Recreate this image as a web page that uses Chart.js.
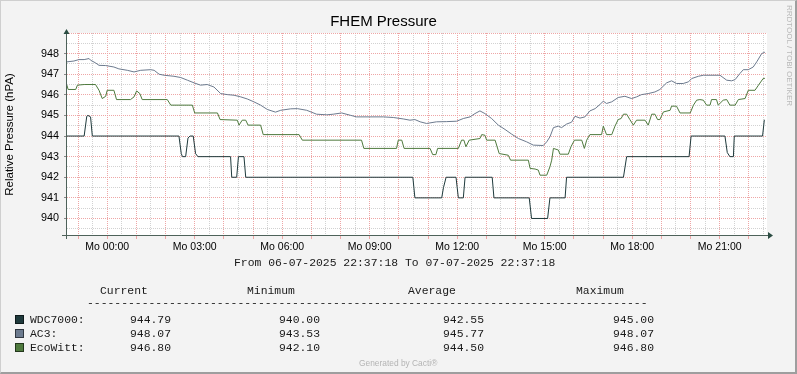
<!DOCTYPE html>
<html>
<head>
<meta charset="utf-8">
<script src="https://cdn.jsdelivr.net/npm/chart.js@4.4.1/dist/chart.umd.min.js"></script>
<style>
  html, body { margin: 0; padding: 0; background: #ffffff; }
  #wrap { position: relative; width: 797px; height: 374px; background: #f3f3f3; overflow: hidden; }
  #frame { position: absolute; left: 0; top: 0; width: 797px; height: 374px; box-sizing: border-box;
           border-top: 1px solid #cfcfcf; border-left: 1px solid #cfcfcf;
           border-right: 2px solid #9e9e9e; border-bottom: 2px solid #9e9e9e; pointer-events: none; }
  canvas { position: absolute; left: 0; top: 0; }
  .t { position: absolute; white-space: pre; }
  .mono { font-family: "Liberation Mono", "Courier New", monospace; font-size: 11.4px; line-height: 14px; color: #1a1a1a; }
  .box { position: absolute; width: 9px; height: 9px; box-sizing: border-box; border: 1px solid rgba(0,0,0,0.55); }
  #cacti { font-family: "Liberation Sans", Arial, sans-serif; font-size: 8.4px; color: #b4b4b4; line-height: 10px; }
  #rrd { font-family: "Liberation Sans", Arial, sans-serif; font-size: 8px; color: #b8b8b8; line-height: 10px;
         transform-origin: 0 0; transform: rotate(90deg); }
</style>
</head>
<body>
<div id="wrap">
  <canvas id="c" width="797" height="374"></canvas>
  <div id="legend"></div>
  <div class="t" id="cacti" style="left:359px; top:358px;">Generated by Cacti®</div>
  <div class="t" id="rrd" style="left:794px; top:5px;">RRDTOOL / TOBI OETIKER</div>
  <div id="frame"></div>
</div>
<script>
// time axis in hours relative to Mo 00:00 (06-07-2025 22:37:18 .. 07-07-2025 22:37:18)
const startHour = -1.378;
const endHour = 22.622;

const seriesNames = ["WDC7000", "AC3", "EcoWitt"];
const seriesColors = ["#1f3a3c", "#6c7a8e", "#4f7a3e"];

const xLabelHours = [0, 3, 6, 9, 12, 15, 18, 21];
const xLabels = ["Mo 00:00", "Mo 03:00", "Mo 06:00", "Mo 09:00", "Mo 12:00", "Mo 15:00", "Mo 18:00", "Mo 21:00"];
const yLabels = [940, 941, 942, 943, 944, 945, 946, 947, 948];

// [hour, hPa]
const wdcPoints = [
  [-1.38, 944], [-0.79, 944], [-0.70, 944.96], [-0.66, 945], [-0.57, 944.93], [-0.51, 944],
  [2.46, 944], [2.54, 943.15], [2.58, 943], [2.69, 943], [2.77, 943.9], [2.84, 944], [2.95, 944],
  [3.03, 943.15], [3.11, 943], [4.23, 943], [4.27, 942], [4.44, 942], [4.50, 943], [4.69, 943],
  [4.75, 942], [10.48, 942], [10.55, 941], [11.47, 941], [11.53, 941.5], [11.62, 942], [11.96, 942],
  [12.04, 941], [12.21, 941], [12.27, 942], [13.20, 942], [13.26, 941], [14.47, 941], [14.55, 940],
  [15.10, 940], [15.18, 941], [15.70, 941], [15.75, 942], [17.70, 942], [17.81, 943], [19.95, 943],
  [20.02, 944], [21.18, 944], [21.26, 943.2], [21.35, 943], [21.47, 943], [21.50, 944], [22.47, 944],
  [22.53, 944.79]
];

const ac3Points = [
  [-1.38, 947.60], [-1.14, 947.64], [-0.97, 947.71], [-0.79, 947.71], [-0.62, 947.76], [-0.57, 947.68],
  [-0.40, 947.55], [-0.28, 947.43], [-0.05, 947.42], [0.23, 947.35], [0.40, 947.26], [0.69, 947.19],
  [0.92, 947.11], [1.15, 947.19], [1.49, 947.22], [1.61, 947.19], [1.78, 947.00], [1.95, 946.95],
  [2.29, 946.90], [2.52, 946.84], [2.75, 946.71], [2.98, 946.58], [3.20, 946.47], [3.43, 946.50],
  [3.66, 946.38], [3.89, 946.06], [4.12, 946.01], [4.35, 945.98], [4.58, 945.90], [4.80, 945.80],
  [5.03, 945.66], [5.26, 945.50], [5.49, 945.29], [5.77, 945.16], [5.95, 945.25], [6.29, 945.32],
  [6.52, 945.33], [6.84, 945.25], [7.18, 945.06], [7.53, 945.03], [7.75, 945.06], [8.04, 945.12],
  [8.33, 945.01], [8.55, 944.93], [9.47, 944.93], [9.81, 944.90], [10.15, 944.83], [10.38, 944.77],
  [10.55, 944.80], [10.73, 944.69], [10.95, 944.61], [11.29, 944.69], [11.64, 944.70], [11.98, 944.72],
  [12.21, 944.85], [12.44, 944.93], [12.61, 945.09], [12.78, 945.22], [12.95, 945.09], [13.18, 944.85],
  [13.41, 944.53], [13.64, 944.32], [13.87, 944.09], [14.10, 943.88], [14.38, 943.72], [14.61, 943.56],
  [14.95, 943.54], [15.07, 943.72], [15.18, 943.96], [15.30, 944.41], [15.47, 944.48], [15.58, 944.41],
  [15.75, 944.58], [15.92, 944.67], [16.04, 944.96], [16.21, 944.87], [16.38, 944.93], [16.55, 945.22],
  [16.73, 945.33], [16.90, 945.54], [17.01, 945.69], [17.12, 945.58], [17.30, 945.66], [17.52, 945.87],
  [17.75, 945.93], [17.98, 945.82], [18.15, 945.90], [18.32, 946.01], [18.55, 946.06], [18.78, 946.14],
  [18.95, 946.26], [19.18, 946.58], [19.35, 946.68], [19.52, 946.55], [19.75, 946.55], [19.93, 946.63],
  [20.04, 946.79], [20.27, 946.90], [20.44, 946.95], [21.01, 946.95], [21.24, 946.71], [21.41, 946.68],
  [21.53, 946.74], [21.69, 947.03], [21.81, 947.22], [21.98, 947.22], [22.15, 947.35], [22.27, 947.60],
  [22.44, 948.00], [22.55, 948.07]
];

const ecoPoints = [
  [-1.38, 946.47], [-1.34, 946.26], [-1.08, 946.26], [-1.02, 946.47], [-0.79, 946.50], [-0.40, 946.50],
  [-0.28, 946.22], [-0.17, 945.82], [-0.05, 945.93], [0.00, 946.22], [0.23, 946.22], [0.32, 945.77],
  [0.80, 945.77], [0.92, 945.90], [1.01, 946.19], [1.12, 946.06], [1.20, 945.77], [2.06, 945.77],
  [2.18, 945.50], [2.92, 945.50], [3.00, 945.12], [3.78, 945.12], [3.87, 944.80], [4.46, 944.77],
  [4.52, 944.53], [4.63, 944.77], [4.75, 944.77], [4.83, 944.53], [5.26, 944.53], [5.35, 944.07],
  [6.58, 944.07], [6.69, 943.80], [8.72, 943.80], [8.80, 943.40], [9.92, 943.40], [9.98, 943.80],
  [10.10, 943.80], [10.18, 943.40], [11.07, 943.40], [11.16, 943.10], [11.27, 943.10], [11.33, 943.40],
  [12.04, 943.40], [12.15, 943.80], [12.23, 943.80], [12.30, 943.48], [12.41, 943.80], [12.78, 943.88],
  [12.84, 944.07], [12.95, 944.04], [13.01, 943.80], [13.30, 943.80], [13.44, 943.15], [13.75, 943.07],
  [13.83, 942.83], [14.44, 942.83], [14.50, 942.43], [14.67, 942.40], [14.78, 942.35], [14.84, 942.10],
  [15.07, 942.10], [15.18, 942.51], [15.24, 942.83], [15.30, 943.40], [15.47, 943.32], [15.52, 943.12],
  [15.81, 943.12], [15.90, 943.48], [16.02, 943.80], [16.27, 943.80], [16.36, 943.40], [16.44, 943.80],
  [16.55, 944.07], [16.95, 944.07], [17.01, 944.48], [17.12, 944.07], [17.30, 944.07], [17.41, 944.48],
  [17.52, 944.80], [17.62, 944.85], [17.70, 945.06], [17.81, 945.06], [17.92, 944.80], [18.04, 944.53],
  [18.15, 944.77], [18.44, 944.77], [18.55, 944.53], [18.67, 945.06], [18.78, 945.06], [18.87, 944.80],
  [18.95, 944.80], [19.07, 945.17], [19.30, 945.25], [19.35, 945.45], [19.52, 945.45], [19.64, 945.12],
  [19.99, 945.12], [20.10, 945.50], [20.21, 945.74], [20.32, 945.77], [20.44, 945.74], [20.55, 945.50],
  [20.67, 945.50], [20.72, 945.77], [20.89, 945.77], [20.95, 945.50], [21.12, 945.74], [21.24, 945.77],
  [21.35, 945.50], [21.53, 945.50], [21.64, 945.77], [21.87, 945.82], [21.98, 946.22], [22.21, 946.22],
  [22.33, 946.47], [22.49, 946.79], [22.55, 946.80]
];

// legend table (GPRINT values)
const currentVals = ["944.79", "948.07", "946.80"];
const minimumVals = ["940.00", "943.53", "942.10"];
const averageVals = ["942.55", "945.77", "944.50"];
const maximumVals = ["945.00", "948.07", "946.80"];

const yMin = 939.15;
const yMax = 949;
const majorGrid = "#eea6a6";
const minorGrid = "#d2d2d2";
const axisColor = "#4e625a";

Chart.defaults.font.family = "'Liberation Sans', Arial, sans-serif";

const toXY = pts => pts.map(p => ({ x: p[0], y: p[1] }));
const halfSteps = (from, to) => { const out = []; for (let v = from; v <= to; v += 0.5) out.push(v); return out; };

// white canvas + axes with arrows like rrdtool
const rrdFrame = {
  id: "rrdFrame",
  beforeDraw(chart) {
    const { ctx, chartArea: a } = chart;
    ctx.save();
    ctx.fillStyle = "#ffffff";
    ctx.fillRect(a.left, a.top, a.right - a.left, a.bottom - a.top);
    ctx.restore();
  },
  afterDraw(chart) {
    const { ctx, chartArea: a } = chart;
    const ax = a.left - 0.5, ay = a.bottom - 0.5;
    ctx.save();
    ctx.strokeStyle = axisColor;
    ctx.lineWidth = 1;
    ctx.beginPath();
    ctx.moveTo(ax, a.bottom + 3); ctx.lineTo(ax, a.top - 2);
    ctx.moveTo(a.left - 5, ay); ctx.lineTo(a.right + 3, ay);
    ctx.stroke();
    ctx.fillStyle = "#2c4d43";
    ctx.beginPath();
    ctx.moveTo(ax, a.top - 4); ctx.lineTo(ax - 3, a.top + 1); ctx.lineTo(ax + 3, a.top + 1); ctx.closePath();
    ctx.moveTo(a.right + 6, ay); ctx.lineTo(a.right + 1, ay - 3.5); ctx.lineTo(a.right + 1, ay + 3.5); ctx.closePath();
    ctx.fill();
    ctx.restore();
  }
};

const ds = [wdcPoints, ac3Points, ecoPoints].map((pts, i) => ({
  label: seriesNames[i],
  data: toXY(pts),
  borderColor: seriesColors[i],
  borderWidth: 1,
  pointRadius: 0,
  tension: 0,
  fill: false
}));

new Chart(document.getElementById("c"), {
  type: "line",
  data: { datasets: ds },
  plugins: [rrdFrame],
  options: {
    responsive: false,
    animation: false,
    devicePixelRatio: 1,
    parsing: true,
    layout: { padding: { left: 0, top: 0, right: 30, bottom: 118 } },
    plugins: {
      legend: { display: false },
      tooltip: { enabled: false },
      title: {
        display: true, text: "FHEM Pressure", color: "#000",
        font: { size: 15, weight: "normal" }, padding: { top: 13, bottom: 2 }
      }
    },
    scales: {
      x: {
        type: "linear", min: startHour, max: endHour,
        afterBuildTicks: s => { s.ticks = halfSteps(-1, 22.5).map(v => ({ value: v })); },
        afterFit: s => { s.height = 20; },
        ticks: {
          autoSkip: false, maxRotation: 0, padding: 2, color: "#000", font: { size: 10.5 },
          callback: v => { const k = xLabelHours.indexOf(v); return k >= 0 ? xLabels[k] : ""; }
        },
        grid: {
          color: c => Number.isInteger(c.tick.value) ? majorGrid : minorGrid,
          tickColor: c => Number.isInteger(c.tick.value) ? majorGrid : "rgba(0,0,0,0)",
          tickLength: 3, lineWidth: 1
        },
        border: { display: false, dash: [1, 1] }
      },
      y: {
        min: yMin, max: yMax,
        afterBuildTicks: s => { s.ticks = halfSteps(939.5, 949).map(v => ({ value: v })); },
        afterFit: s => { s.width = 67; },
        ticks: {
          autoSkip: false, padding: 5, color: "#000", font: { size: 10.8 },
          callback: v => yLabels.includes(v) ? String(v) : ""
        },
        grid: {
          color: c => Number.isInteger(c.tick.value) ? majorGrid : minorGrid,
          tickColor: c => yLabels.includes(c.tick.value) ? "#8a8a8a" : "rgba(0,0,0,0)",
          tickLength: 3, lineWidth: 1
        },
        border: { display: false, dash: [1, 1] },
        title: {
          display: true, text: "Relative Pressure (hPA)", color: "#000",
          font: { size: 11.5 }, padding: { top: 3, bottom: 0 }
        }
      }
    }
  }
});

// rrdtool style legend under the graph
const legend = document.getElementById("legend");
const put = (txt, x, y, cls) => {
  const d = document.createElement("div");
  d.className = "t " + cls;
  d.style.left = x + "px";
  d.style.top = y + "px";
  d.textContent = txt;
  legend.appendChild(d);
};
put("From 06-07-2025 22:37:18 To 07-07-2025 22:37:18", 234, 256, "mono");
put("Current", 100, 284, "mono");
put("Minimum", 247, 284, "mono");
put("Average", 408, 284, "mono");
put("Maximum", 576, 284, "mono");
put("-".repeat(82), 87, 296, "mono");
seriesNames.forEach((name, i) => {
  const top = 312.5 + i * 14;
  const b = document.createElement("div");
  b.className = "box";
  b.style.left = "15px";
  b.style.top = (315 + i * 14) + "px";
  b.style.background = seriesColors[i];
  legend.appendChild(b);
  put(name + ":", 30, top, "mono");
  put(currentVals[i], 130, top, "mono");
  put(minimumVals[i], 279, top, "mono");
  put(averageVals[i], 443, top, "mono");
  put(maximumVals[i], 613, top, "mono");
});
</script>
</body>
</html>
